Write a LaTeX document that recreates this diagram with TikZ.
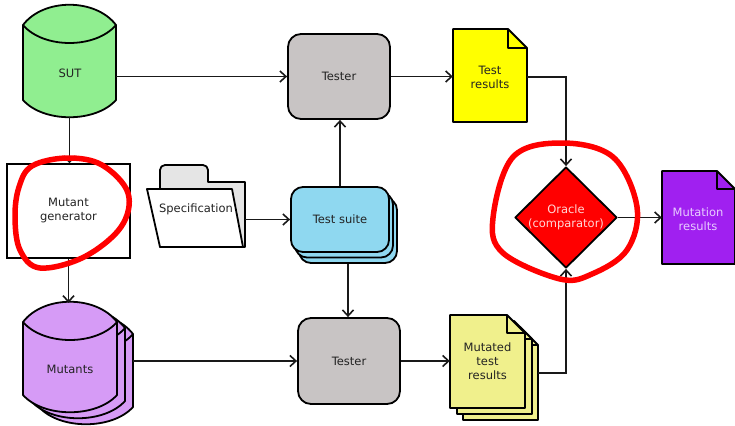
\documentclass[tikz,border=0pt]{standalone}
\usepackage{fontspec}
\setmainfont{DejaVu Sans}
\usetikzlibrary{arrows.meta,shapes.geometric,calc}
\definecolor{sutgreen}{RGB}{144,238,144}
\definecolor{testergray}{RGB}{200,196,196}
\definecolor{resyellow}{RGB}{255,255,0}
\definecolor{mutyellow}{RGB}{240,240,140}
\definecolor{mutpurple}{RGB}{214,155,246}
\definecolor{mrespurple}{RGB}{160,32,240}
\definecolor{suiteblue}{RGB}{143,216,240}
\definecolor{specgray}{RGB}{229,229,229}
\definecolor{textgray}{RGB}{35,35,35}
\definecolor{oracletext}{RGB}{255,215,215}
\definecolor{mrestext}{RGB}{232,205,255}
\newcommand\drumshape[5]{%
  \filldraw[shp, fill=#5] (#1,#2) .. controls ({#1+0.22*(#3-#1)},{#2-27}) and ({#3-0.22*(#3-#1)},{#2-27}) .. (#3,#2) -- (#3,#4) .. controls ({#3-0.22*(#3-#1)},{#4+23}) and ({#1+0.22*(#3-#1)},{#4+23}) .. (#1,#4) -- cycle;
  \draw[shp] (#1,#2) .. controls ({#1+0.22*(#3-#1)},{#2+24}) and ({#3-0.22*(#3-#1)},{#2+24}) .. (#3,#2);
}
\newcommand\docshape[6]{%
  \filldraw[shp, fill=#6] (#1,#2) -- ({#3-#5},#2) -- (#3,{#2+#5}) -- (#3,#4) -- (#1,#4) -- cycle;
  \draw[shp] ({#3-#5},#2) -- ({#3-#5},{#2+#5}) -- (#3,{#2+#5});
}
\begin{document}
\begin{tikzpicture}[x=1pt,y=-1pt,
  lbl/.style={font=\fontsize{11.5}{14}\selectfont, text=textgray, align=center, inner sep=0pt},
  ln/.style={line width=1.6pt, draw=black!90},
  arr/.style={ln, -{Straight Barb[length=6pt,width=11pt]}},
  shp/.style={line width=1.8pt, draw=black, line join=round},
  testerbox/.style={lbl, shp, fill=testergray, rounded corners=13pt, minimum width=102pt, minimum height=85pt},
  ring/.style={line width=5.5pt, draw=red, line cap=round}
]
\useasboundingbox (0,0) rectangle (735,425);

% ---------- shapes ----------
% SUT
\drumshape{23}{25}{116}{100}{sutgreen}
\node[lbl, minimum width=93pt, minimum height=112pt] (sut) at (69.5,61) {};
\node[lbl] (sutlbl) at (70,73) {SUT};

% Tester (top)
\node[testerbox] (tester1) at (339,76.5) {Tester};

% Test results
\docshape{453}{29}{527}{122}{19}{resyellow}
\node[lbl, minimum width=74pt, minimum height=93pt] (tres) at (490,77) {Test\\results};

% Mutant generator
\node[lbl, draw=black, line width=1.4pt, minimum width=123pt, minimum height=94pt] (mutgen) at (68.5,211) {Mutant\\generator};

% Specification folder
\filldraw[shp, fill=specgray] (160,247) -- (160,170) [rounded corners=5pt] -- (160,165) -- (208,165) [sharp corners] -- (208,182) -- (245,182) -- (245,247) -- cycle;
\filldraw[shp, fill=white] (147,189) -- (232,189) -- (243,247) -- (160,247) -- cycle;
\node[lbl, minimum width=98pt, minimum height=82pt] (spec) at (196,206) {};
\node[lbl] (speclbl) at (196,209) {Specification};

% Test suite (stack)
\filldraw[shp, fill=suiteblue, rounded corners=12pt] (299,198) rectangle (397,263);
\filldraw[shp, fill=suiteblue, rounded corners=12pt] (295,192.5) rectangle (393,257.5);
\node[lbl, shp, fill=suiteblue, rounded corners=12pt, minimum width=98pt, minimum height=65pt] (suite) at (340,219.5) {Test suite};

% Oracle
\node[lbl, shape=diamond, shp, fill=red, text=oracletext, minimum width=102pt, minimum height=101pt] (oracle) at (566,217.5) {Oracle\\(comparator)};

% Mutation results
\docshape{662}{171}{735}{264}{18}{mrespurple}
\node[lbl, text=mrestext, minimum width=72pt, minimum height=93pt] (mres) at (698,219) {Mutation\\results};

% Mutants (stack)
\drumshape{39}{334}{133}{407}{mutpurple}
\drumshape{31}{328}{125}{401}{mutpurple}
\drumshape{23}{322}{117}{395}{mutpurple}
\node[lbl, minimum width=94pt, minimum height=110pt] (mutants) at (70,358) {};
\node[lbl] (mutantslbl) at (70,369) {Mutants};

% Tester (bottom)
\node[testerbox, minimum height=86pt] (tester2) at (349,361) {Tester};

% Mutated test results (stack)
\docshape{463}{327}{538}{420}{18}{mutyellow}
\docshape{457}{321}{532}{414}{18}{mutyellow}
\docshape{450}{315}{525}{408}{18}{mutyellow}
\node[lbl, minimum width=75pt, minimum height=93pt] (mut) at (487.5,361.5) {Mutated\\test\\results};

% ---------- connectors ----------
\draw[arr] (sut.east |- tester1.west) -- (tester1.west);
\draw[arr] (tester1.east) -- (tester1.east -| tres.west);
\draw[arr] (tres.east) -| (oracle.north);
\draw[arr] (oracle.east) -- (oracle.east -| mres.west);
\draw[arr] (sut.south) -- (sut.south |- mutgen.north);
\draw[arr] (mutgen.south) -- (mutgen.south |- mutants.north);
\draw[arr] (suite.west -| spec.east) -- (suite.west);
\draw[arr] (suite.north) -- (suite.north |- tester1.south);
\coordinate (sb) at ([shift={(8,11)}]suite.south);
\draw[arr] (sb) -- (sb |- tester2.north);
\coordinate (mutR) at ([xshift=16pt]mutants.east);
\draw[arr] (mutR |- tester2.west) -- (tester2.west);
\draw[arr] (tester2.east) -- (tester2.east -| mut.west);
\coordinate (mutout) at ([shift={(13,11.5)}]mut.east);
\draw[arr] (mutout) -| (oracle.south);

% ---------- red highlight loops ----------
\draw[ring] plot[smooth cycle, tension=0.6] coordinates {(32,166) (67,158) (102,165) (128,193) (121,227) (84,257) (40,268) (20,250) (15,217) (19,187)};
\draw[ring] plot[smooth cycle, tension=0.6] coordinates {(562,143) (613,157) (637,207) (627,250) (592,274) (560,279) (503,253) (493,218) (513,157)};
\end{tikzpicture}
\end{document}
